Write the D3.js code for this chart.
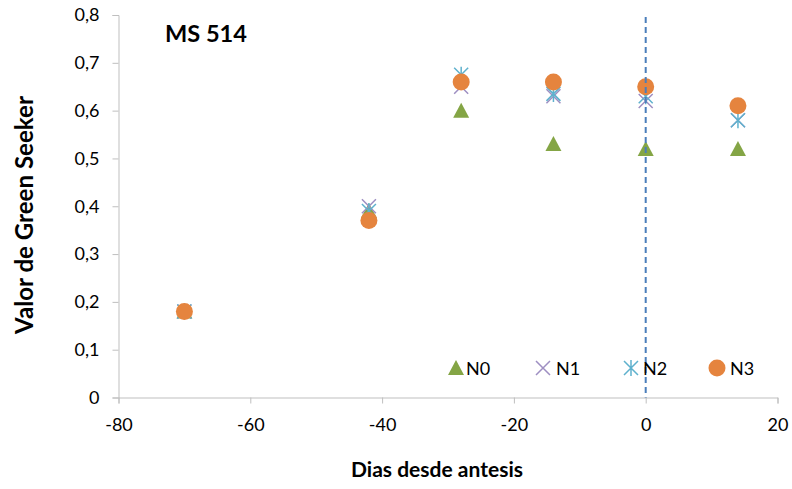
<!DOCTYPE html>
<html><head><meta charset="utf-8">
<script src="https://cdn.jsdelivr.net/npm/d3@7"></script>
<style>body{margin:0;background:#fff}svg{display:block}text{font-family:Lato,"Open Sans",sans-serif}</style>
</head><body><svg id="c" width="792" height="489"></svg>
<script>
const days = [-70, -42, -28, -14, 0, 14];
const N0 = [0.18, 0.39, 0.60, 0.53, 0.52, 0.52];
const N1 = [0.18, 0.40, 0.65, 0.63, 0.62, 0.58];
const N2 = [0.18, 0.39, 0.675, 0.635, 0.63, 0.58];
const N3 = [0.18, 0.37, 0.66, 0.66, 0.65, 0.61];
const seriesNames = ["N0", "N1", "N2", "N3"];
const xTicks = [-80, -60, -40, -20, 0, 20];
const yTicks = [0, 0.1, 0.2, 0.3, 0.4, 0.5, 0.6, 0.7, 0.8];
const antesis = 0;
const title = "MS 514";

const svg = d3.select("#c");
const x = d3.scaleLinear().domain([-80, 20]).range([118.5, 777.5]);
const y = d3.scaleLinear().domain([0, 0.8]).range([397.5, 15]);
const axisColor = "#bfbfbf";

const gx = svg.append("g").attr("transform", `translate(0,${y(0)})`)
  .call(d3.axisBottom(x).tickValues(xTicks).tickSize(6).tickFormat(d => d));
gx.select(".domain").attr("stroke", axisColor);
gx.selectAll(".tick line").attr("stroke", axisColor);
gx.selectAll(".tick text").attr("font-size", 18).attr("fill", "#000").attr("dy", "0").attr("y", 33);

const gy = svg.append("g").attr("transform", `translate(${x(-80)},0)`)
  .call(d3.axisLeft(y).tickValues(yTicks).tickSize(6).tickFormat(d => d3.format(".1f")(d).replace(".", ",").replace(/^0,0$/, "0")));
gy.select(".domain").attr("stroke", axisColor);
gy.selectAll(".tick line").attr("stroke", axisColor);
gy.selectAll(".tick text").attr("font-size", 18).attr("fill", "#000").attr("x", -19);

function fit(sel, w) {
  const cur = sel.node().getComputedTextLength();
  const fs = +sel.attr("font-size");
  sel.attr("font-size", fs * w / cur);
}
const xt = svg.append("text").attr("x", 437).attr("y", 477).attr("text-anchor", "middle")
  .attr("font-size", 15).attr("font-weight", "bold").text("Dias desde antesis");
fit(xt, 172);
const yt = svg.append("text").attr("transform", "translate(33,215) rotate(-90)").attr("text-anchor", "middle")
  .attr("font-size", 15).attr("font-weight", "bold").text("Valor de Green Seeker");
fit(yt, 238);
const tt = svg.append("text").attr("x", 165).attr("y", 42).attr("font-size", 20).attr("font-weight", "bold").text(title);
fit(tt, 82);

const colors = {N0: "#84a545", N1: "#9e8fc2", N2: "#5fb1cd", N3: "#e5843e"};
function marker(g, name, cx, cy) {
  const c = colors[name];
  if (name === "N0") {
    g.append("path").attr("d", `M${cx},${cy-8}L${cx+8},${cy+7}L${cx-8},${cy+7}Z`).attr("fill", c);
  } else if (name === "N1") {
    g.append("path").attr("d", `M${cx-7},${cy-7}L${cx+7},${cy+7}M${cx+7},${cy-7}L${cx-7},${cy+7}`)
      .attr("stroke", c).attr("stroke-width", 1.5).attr("fill", "none");
  } else if (name === "N2") {
    g.append("path").attr("d", `M${cx-7},${cy-7}L${cx+7},${cy+7}M${cx+7},${cy-7}L${cx-7},${cy+7}M${cx},${cy-8}L${cx},${cy+8}`)
      .attr("stroke", c).attr("stroke-width", 1.5).attr("fill", "none");
  } else {
    g.append("circle").attr("cx", cx).attr("cy", cy).attr("r", 8.5).attr("fill", c);
  }
}
const data = {N0, N1, N2, N3};
const pts = svg.append("g");
seriesNames.forEach(n => {
  data[n].forEach((v, i) => marker(pts, n, x(days[i]), y(v)));
});

svg.append("line").attr("x1", x(antesis)).attr("x2", x(antesis)).attr("y1", 17).attr("y2", y(0))
  .attr("stroke", "#4a7ebb").attr("stroke-width", 2).attr("stroke-dasharray", "6,4");

const leg = svg.append("g");
const legPos = [[456, 466], [543, 556], [631, 643], [717, 730]];
seriesNames.forEach((n, i) => {
  marker(leg, n, legPos[i][0], 368);
  leg.append("text").attr("x", legPos[i][1]).attr("y", 375).attr("font-size", 18).text(n);
});
</script></body></html>
